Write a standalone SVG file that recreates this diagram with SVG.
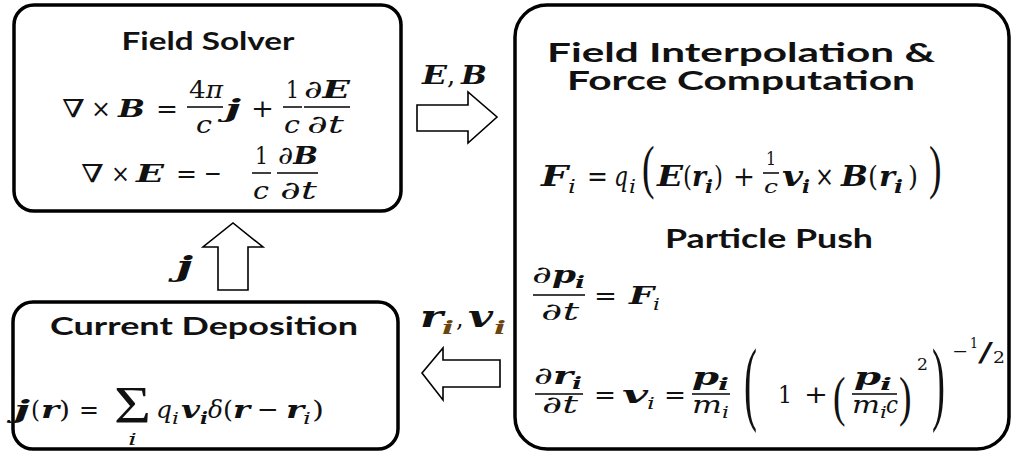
<svg xmlns="http://www.w3.org/2000/svg" width="1012" height="452" viewBox="0 0 1012 452">
<style>
.box{fill:#fff;stroke:#000;stroke-width:3.5}
.arr{fill:#fff;stroke:#000;stroke-width:1.6;stroke-linejoin:miter}
.bar{stroke:#000;stroke-width:1.5}
.T{font-family:Lato,"Open Sans","Liberation Sans",sans-serif;font-weight:700;text-anchor:middle;fill:#111}
.r{font-family:"DejaVu Serif",serif;fill:#111}
.i{font-family:"DejaVu Serif",serif;font-style:italic;fill:#111}
.b{font-family:"DejaVu Serif",serif;font-style:italic;font-weight:700;fill:#111}
.P{font-family:"Liberation Serif",serif;fill:#111}
.eL{font-size:25px}
.eR{font-size:27px}
.eP{font-size:24px}
.s{font-size:17px}
.br{fill:#6b4510}
</style>
<rect width="1012" height="452" fill="#fff"/>

<g id="connectors">
  <polygon class="arr" points="417,105 468,105 468,92 497,117 468,143 468,131 417,131"/>
  <polygon class="arr" points="218,290 218,247 203,247 233,223 263,247 248,247 248,290"/>
  <polygon class="arr" points="500,360 443,360 443,348 422,373 443,400 443,387 500,387"/>
  <g font-size="26">
    <text class="b" x="422" y="84" textLength="25" lengthAdjust="spacingAndGlyphs">E</text>
    <text class="r" x="447" y="84">,</text>
    <text class="b" x="461" y="84" textLength="26" lengthAdjust="spacingAndGlyphs">B</text>
  </g>
  <text class="b" x="176" y="276" font-size="28" textLength="17" lengthAdjust="spacingAndGlyphs">j</text>
  <g>
    <text class="b" x="420" y="327" font-size="30" textLength="23" lengthAdjust="spacingAndGlyphs">r</text>
    <text class="b br" x="442" y="334" font-size="19" textLength="12" lengthAdjust="spacingAndGlyphs">i</text>
    <text class="r" x="456" y="327" font-size="24">,</text>
    <text class="b" x="468" y="327" font-size="30" textLength="25" lengthAdjust="spacingAndGlyphs">v</text>
    <text class="b br" x="494" y="334" font-size="19" textLength="12" lengthAdjust="spacingAndGlyphs">i</text>
  </g>
</g>

<g id="field-solver">
  <rect class="box" x="14" y="5" width="387" height="206" rx="20"/>
  <text class="T" x="208" y="50" font-size="25" textLength="173" lengthAdjust="spacingAndGlyphs">Field Solver</text>
  <g class="eL">
    <text class="r" x="62" y="117" textLength="23" lengthAdjust="spacingAndGlyphs">∇</text>
    <text class="r" x="91" y="117" textLength="20" lengthAdjust="spacingAndGlyphs">×</text>
    <text class="b" x="118" y="117" textLength="27" lengthAdjust="spacingAndGlyphs">B</text>
    <text class="r" x="156" y="117" textLength="22" lengthAdjust="spacingAndGlyphs">=</text>
    <line class="bar" x1="187" y1="107" x2="223" y2="107"/>
    <text class="r" x="189" y="98" textLength="34" lengthAdjust="spacingAndGlyphs">4<tspan class="i">π</tspan></text>
    <text class="i" x="196" y="133" textLength="16" lengthAdjust="spacingAndGlyphs">c</text>
    <text class="b" x="225" y="117" textLength="16" lengthAdjust="spacingAndGlyphs">j</text>
    <text class="r" x="251" y="117" textLength="23" lengthAdjust="spacingAndGlyphs">+</text>
    <line class="bar" x1="283" y1="107" x2="302" y2="107"/>
    <text class="r" x="286" y="98" textLength="13" lengthAdjust="spacingAndGlyphs">1</text>
    <text class="i" x="284" y="133" textLength="16" lengthAdjust="spacingAndGlyphs">c</text>
    <line class="bar" x1="304" y1="107" x2="350" y2="107"/>
    <text class="i" x="304" y="98" textLength="46" lengthAdjust="spacingAndGlyphs">∂<tspan class="b">E</tspan></text>
    <text class="i" x="307" y="133" textLength="37" lengthAdjust="spacingAndGlyphs">∂t</text>

    <text class="r" x="81" y="182" textLength="23" lengthAdjust="spacingAndGlyphs">∇</text>
    <text class="r" x="111" y="182" textLength="19" lengthAdjust="spacingAndGlyphs">×</text>
    <text class="b" x="136" y="182" textLength="28" lengthAdjust="spacingAndGlyphs">E</text>
    <text class="r" x="176" y="182" textLength="21" lengthAdjust="spacingAndGlyphs">=</text>
    <text class="r" x="204" y="182" textLength="18" lengthAdjust="spacingAndGlyphs">−</text>
    <line class="bar" x1="252" y1="173" x2="271" y2="173"/>
    <text class="r" x="255" y="164" textLength="13" lengthAdjust="spacingAndGlyphs">1</text>
    <text class="i" x="253" y="199" textLength="16" lengthAdjust="spacingAndGlyphs">c</text>
    <line class="bar" x1="277" y1="173" x2="318" y2="173"/>
    <text class="i" x="278" y="164" textLength="40" lengthAdjust="spacingAndGlyphs">∂<tspan class="b">B</tspan></text>
    <text class="i" x="280" y="199" textLength="37" lengthAdjust="spacingAndGlyphs">∂t</text>
  </g>
</g>

<g id="current-deposition">
  <rect class="box" x="13" y="302" width="385" height="147" rx="20"/>
  <text class="T" x="204" y="335" font-size="25" textLength="308" lengthAdjust="spacingAndGlyphs">Current Deposition</text>
  <g class="eL">
    <text class="b" x="14" y="418" textLength="16" lengthAdjust="spacingAndGlyphs">j</text>
    <text class="r" x="31" y="418" textLength="9" lengthAdjust="spacingAndGlyphs">(</text>
    <text class="b" x="41" y="418" textLength="18" lengthAdjust="spacingAndGlyphs">r</text>
    <text class="r" x="59" y="418" textLength="11" lengthAdjust="spacingAndGlyphs">)</text>
    <text class="r" x="79" y="418" textLength="20" lengthAdjust="spacingAndGlyphs">=</text>
    <text class="P" x="114" y="423" font-size="52" textLength="37" lengthAdjust="spacingAndGlyphs">Σ</text>
    <text class="i s" x="128" y="445" textLength="9" lengthAdjust="spacingAndGlyphs">i</text>
    <text class="i" x="156" y="418" textLength="16" lengthAdjust="spacingAndGlyphs">q</text>
    <text class="i" x="172" y="424" font-size="17" textLength="7" lengthAdjust="spacingAndGlyphs">i</text>
    <text class="b" x="181" y="418" textLength="19" lengthAdjust="spacingAndGlyphs">v</text>
    <text class="b" x="200" y="424" font-size="17" textLength="8" lengthAdjust="spacingAndGlyphs">i</text>
    <text class="i" x="208" y="418" textLength="15" lengthAdjust="spacingAndGlyphs">δ</text>
    <text class="r" x="223" y="418" textLength="10" lengthAdjust="spacingAndGlyphs">(</text>
    <text class="b" x="233" y="418" textLength="17" lengthAdjust="spacingAndGlyphs">r</text>
    <text class="r" x="257" y="418" textLength="22" lengthAdjust="spacingAndGlyphs">−</text>
    <text class="b" x="286" y="418" textLength="18" lengthAdjust="spacingAndGlyphs">r</text>
    <text class="i" x="303" y="424" font-size="17" textLength="8" lengthAdjust="spacingAndGlyphs">i</text>
    <text class="r" x="312" y="418" textLength="12" lengthAdjust="spacingAndGlyphs">)</text>
  </g>
</g>

<g id="field-interpolation-particle-push">
  <rect class="box" x="515" y="5" width="494" height="444" rx="32"/>
  <text class="T" font-size="27"><tspan x="741" y="62" textLength="388" lengthAdjust="spacingAndGlyphs">Field Interpolation &amp;</tspan><tspan x="741" y="90" textLength="348" lengthAdjust="spacingAndGlyphs">Force Computation</tspan></text>
  <g class="eR">
    <text class="b" x="541" y="186" textLength="27" lengthAdjust="spacingAndGlyphs">F</text>
    <text class="i" x="568" y="193" font-size="18" textLength="8" lengthAdjust="spacingAndGlyphs">i</text>
    <text class="r" x="587" y="186" textLength="21" lengthAdjust="spacingAndGlyphs">=</text>
    <text class="i" x="614" y="186" textLength="14" lengthAdjust="spacingAndGlyphs">q</text>
    <text class="i" x="629" y="193" font-size="18" textLength="7" lengthAdjust="spacingAndGlyphs">i</text>
    <text class="P" font-size="30" transform="translate(642,173.5) scale(1.25,1.95)" y="7">(</text>
    <text class="b" x="657" y="186" textLength="26" lengthAdjust="spacingAndGlyphs">E</text>
    <text class="r" x="683" y="186" textLength="9" lengthAdjust="spacingAndGlyphs">(</text>
    <text class="b" x="692" y="186" textLength="14" lengthAdjust="spacingAndGlyphs">r</text>
    <text class="b" x="705" y="193" font-size="18" textLength="8" lengthAdjust="spacingAndGlyphs">i</text>
    <text class="r" x="714" y="186" textLength="9" lengthAdjust="spacingAndGlyphs">)</text>
    <text class="r" x="733" y="186" textLength="22" lengthAdjust="spacingAndGlyphs">+</text>
    <line class="bar" x1="763" y1="173" x2="779" y2="173"/>
    <text class="r" x="766" y="165" font-size="19" textLength="10" lengthAdjust="spacingAndGlyphs">1</text>
    <text class="i" x="764" y="193" font-size="19" textLength="14" lengthAdjust="spacingAndGlyphs">c</text>
    <text class="b" x="782" y="186" textLength="21" lengthAdjust="spacingAndGlyphs">v</text>
    <text class="b" x="802" y="193" font-size="18" textLength="8" lengthAdjust="spacingAndGlyphs">i</text>
    <text class="r" x="815" y="186" textLength="19" lengthAdjust="spacingAndGlyphs">×</text>
    <text class="b" x="841" y="186" textLength="27" lengthAdjust="spacingAndGlyphs">B</text>
    <text class="r" x="868" y="186" textLength="10" lengthAdjust="spacingAndGlyphs">(</text>
    <text class="b" x="879" y="186" textLength="16" lengthAdjust="spacingAndGlyphs">r</text>
    <text class="b" x="894" y="193" font-size="18" textLength="9" lengthAdjust="spacingAndGlyphs">i</text>
    <text class="r" x="908" y="186" textLength="10" lengthAdjust="spacingAndGlyphs">)</text>
    <text class="P" font-size="30" transform="translate(929,173.5) scale(1.25,1.95)" y="7">)</text>
  </g>

  <text class="T" x="769" y="248" font-size="26" textLength="208" lengthAdjust="spacingAndGlyphs">Particle Push</text>
  <g class="eP">
    <text class="i" x="532" y="283" textLength="20" lengthAdjust="spacingAndGlyphs">∂</text>
    <text class="b" x="552" y="283" textLength="24" lengthAdjust="spacingAndGlyphs">p</text>
    <text class="b s" x="575" y="288" textLength="10" lengthAdjust="spacingAndGlyphs">i</text>
    <line class="bar" x1="533" y1="295" x2="585" y2="295"/>
    <text class="i" x="541" y="320" textLength="38" lengthAdjust="spacingAndGlyphs">∂t</text>
    <text class="r" x="594" y="304" textLength="23" lengthAdjust="spacingAndGlyphs">=</text>
    <text class="b" x="629" y="304" textLength="25" lengthAdjust="spacingAndGlyphs">F</text>
    <text class="i s" x="653" y="310" textLength="7" lengthAdjust="spacingAndGlyphs">i</text>

    <text class="i" x="534" y="384" textLength="19" lengthAdjust="spacingAndGlyphs">∂</text>
    <text class="b" x="553" y="384" textLength="20" lengthAdjust="spacingAndGlyphs">r</text>
    <text class="b s" x="572" y="389" textLength="10" lengthAdjust="spacingAndGlyphs">i</text>
    <line class="bar" x1="535" y1="394" x2="583" y2="394"/>
    <text class="i" x="542" y="413" textLength="36" lengthAdjust="spacingAndGlyphs">∂t</text>
    <text class="r" x="594" y="403" textLength="22" lengthAdjust="spacingAndGlyphs">=</text>
    <text class="b" x="622" y="403" textLength="26" lengthAdjust="spacingAndGlyphs">v</text>
    <text class="i s" x="647" y="409" textLength="8" lengthAdjust="spacingAndGlyphs">i</text>
    <text class="r" x="664" y="403" textLength="22" lengthAdjust="spacingAndGlyphs">=</text>
    <text class="b" x="692" y="385" textLength="27" lengthAdjust="spacingAndGlyphs">p</text>
    <text class="b s" x="718" y="390" textLength="11" lengthAdjust="spacingAndGlyphs">i</text>
    <line class="bar" x1="692" y1="394" x2="730" y2="394"/>
    <text class="i" x="692" y="413" textLength="30" lengthAdjust="spacingAndGlyphs">m</text>
    <text class="i s" x="722" y="418" textLength="7" lengthAdjust="spacingAndGlyphs">i</text>
    <text class="P" font-size="30" transform="translate(744,391) scale(1.3,3.1)" y="7">(</text>
    <text class="r" x="778" y="403" textLength="14" lengthAdjust="spacingAndGlyphs">1</text>
    <text class="r" x="804" y="403" textLength="24" lengthAdjust="spacingAndGlyphs">+</text>
    <text class="P" font-size="30" transform="translate(833,402) scale(1.25,1.85)" y="7">(</text>
    <text class="b" x="854" y="385" textLength="27" lengthAdjust="spacingAndGlyphs">p</text>
    <text class="b s" x="880" y="390" textLength="12" lengthAdjust="spacingAndGlyphs">i</text>
    <line class="bar" x1="852" y1="394" x2="897" y2="394"/>
    <text class="i" x="852" y="413" textLength="28" lengthAdjust="spacingAndGlyphs">m</text>
    <text class="i s" x="880" y="418" textLength="7" lengthAdjust="spacingAndGlyphs">i</text>
    <text class="i" x="886" y="413" textLength="12" lengthAdjust="spacingAndGlyphs">c</text>
    <text class="P" font-size="30" transform="translate(899,402) scale(1.25,1.85)" y="7">)</text>
    <text class="r s" x="917" y="370" textLength="11" lengthAdjust="spacingAndGlyphs">2</text>
    <text class="P" font-size="30" transform="translate(932,391) scale(1.3,3.1)" y="7">)</text>
    <text class="r s" x="952" y="357" textLength="16" lengthAdjust="spacingAndGlyphs">−</text>
    <text class="r" x="970" y="348" font-size="15" textLength="8" lengthAdjust="spacingAndGlyphs">1</text>
    <text class="r" x="978" y="361" font-size="26" textLength="15" lengthAdjust="spacingAndGlyphs">/</text>
    <text class="r s" x="993" y="363" textLength="12" lengthAdjust="spacingAndGlyphs">2</text>
  </g>
</g>
</svg>
